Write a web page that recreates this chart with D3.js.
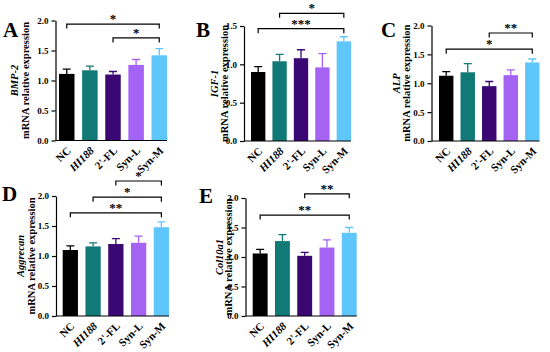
<!DOCTYPE html>
<html>
<head>
<meta charset="utf-8">
<script src="https://cdn.jsdelivr.net/npm/d3@7"></script>
<style>
  body { margin: 0; background: #fff; }
  svg text { font-family: "Liberation Serif", "Times New Roman", serif; font-weight: bold; }
</style>
</head>
<body>
<svg id="chart" width="550" height="352"></svg>
<script>
const categories = ["NC", "HI188", "2'-FL", "Syn-L", "Syn-M"];
const barColors = ["#000000", "#127a76", "#3b0873", "#a463f2", "#5fc6fb"];

const bmp2Mean = [1.11, 1.17, 1.10, 1.26, 1.42];
const bmp2Err = [0.08, 0.07, 0.05, 0.09, 0.11];
const igf1Mean = [0.90, 1.04, 1.08, 0.96, 1.30];
const igf1Err = [0.07, 0.09, 0.11, 0.18, 0.06];
const alpMean = [1.13, 1.19, 0.95, 1.14, 1.36];
const alpErr = [0.07, 0.15, 0.08, 0.09, 0.06];
const aggrecanMean = [1.10, 1.16, 1.20, 1.22, 1.48];
const aggrecanErr = [0.07, 0.06, 0.09, 0.11, 0.09];
const col10a1Mean = [1.06, 1.27, 1.02, 1.16, 1.41];
const col10a1Err = [0.07, 0.11, 0.06, 0.13, 0.09];

// significance brackets: [from index, to index, label, level]
const bmp2Sig = [[0, 4, "*", 1.94], [2, 4, "*", 1.71]];
const igf1Sig = [[1, 4, "*", 1.665], [0, 4, "***", 1.465]];
const alpSig = [[2, 4, "**", 1.87], [0, 4, "*", 1.59]];
const aggrecanSig = [[2, 4, "*", 2.25], [1, 4, "*", 1.98], [0, 4, "**", 1.72]];
const col10a1Sig = [[2, 4, "**", 2.07], [0, 4, "**", 1.71]];

const yTicks2 = [0, 0.5, 1.0, 1.5, 2.0];
const yTicks15 = [0, 0.5, 1.0, 1.5];

const panels = [
  {letter: "A", gene: "BMP-2", mean: bmp2Mean, err: bmp2Err, sig: bmp2Sig, ticks: yTicks2,
   lx: 3, ly: 37, ax: 55.5, bx: [59, 167], yr: [140.5, 20.5], t1: 14, t2: 25},
  {letter: "B", gene: "IGF-1", mean: igf1Mean, err: igf1Err, sig: igf1Sig, ticks: yTicks15,
   lx: 196, ly: 37, ax: 244, bx: [251, 351], yr: [141, 26], t1: 214, t2: 224},
  {letter: "C", gene: "ALP", mean: alpMean, err: alpErr, sig: alpSig, ticks: yTicks2,
   lx: 381, ly: 37, ax: 431.5, bx: [439, 539.5], yr: [141, 25.5], t1: 396.5, t2: 406},
  {letter: "D", gene: "Aggrecan", mean: aggrecanMean, err: aggrecanErr, sig: aggrecanSig, ticks: yTicks2,
   lx: 2, ly: 201, ax: 56, bx: [62.7, 169], yr: [316, 196], t1: 20.5, t2: 31},
  {letter: "E", gene: "Col10a1", mean: col10a1Mean, err: col10a1Err, sig: col10a1Sig, ticks: yTicks2,
   lx: 199, ly: 203, ax: 245.5, bx: [252.7, 356.7], yr: [316, 198], t1: 219, t2: 228}
];

const svg = d3.select("#chart");

panels.forEach(p => {
  const g = svg.append("g");
  const yMax = p.ticks[p.ticks.length - 1];
  const x = d3.scaleBand().domain(categories).range(p.bx).paddingInner(0.33).paddingOuter(0);
  const y = d3.scaleLinear().domain([0, yMax]).range(p.yr);
  const rows = categories.map((c, i) => ({c: c, m: p.mean[i], e: p.err[i], col: barColors[i]}));

  // panel letter
  g.append("text").attr("x", p.lx).attr("y", p.ly)
    .style("font-size", "21px").text(p.letter);

  // y title
  const midY = (p.yr[0] + p.yr[1]) / 2;
  g.append("text")
    .attr("transform", "translate(" + p.t1 + "," + midY + ") rotate(-90)")
    .attr("text-anchor", "middle").attr("dominant-baseline", "central")
    .style("font-size", "10.5px").style("font-style", "italic")
    .text(p.gene);
  g.append("text")
    .attr("transform", "translate(" + p.t2 + "," + midY + ") rotate(-90)")
    .attr("text-anchor", "middle").attr("dominant-baseline", "central")
    .attr("textLength", 117).attr("lengthAdjust", "spacingAndGlyphs")
    .style("font-size", "10.8px")
    .text("mRNA relative expression");

  // bars
  g.selectAll(".bar").data(rows).enter().append("rect")
    .attr("x", d => x(d.c))
    .attr("y", d => y(d.m))
    .attr("width", x.bandwidth())
    .attr("height", d => y(0) - y(d.m))
    .attr("fill", d => d.col);

  // error bars (upper only)
  const cap = 8;
  g.selectAll(".err").data(rows).enter().append("path")
    .attr("d", d => {
      const cx = x(d.c) + x.bandwidth() / 2;
      return "M" + cx + "," + y(d.m) + "V" + y(d.m + d.e) +
        "M" + (cx - cap / 2) + "," + y(d.m + d.e) + "H" + (cx + cap / 2);
    })
    .attr("stroke", d => d.col).attr("stroke-width", 1.3).attr("fill", "none");

  // y axis
  const yAxis = g.append("g")
    .attr("transform", "translate(" + p.ax + ",0)")
    .call(d3.axisLeft(y).tickValues(p.ticks).tickFormat(d3.format(".1f")).tickSize(4).tickSizeOuter(0).tickPadding(3));
  yAxis.selectAll("path, line").attr("stroke", "#000").attr("stroke-width", 1.2);
  yAxis.selectAll("text").style("font-size", "9px").style("font-family", "'Liberation Serif', serif").attr("fill", "#000");

  // x axis
  g.append("line")
    .attr("x1", p.ax).attr("x2", p.bx[1])
    .attr("y1", y(0)).attr("y2", y(0))
    .attr("stroke", "#000").attr("stroke-width", 1.2);
  g.selectAll(".xl").data(categories).enter().append("text")
    .attr("transform", d => "translate(" + (x(d) + x.bandwidth() / 2 + 2) + "," + (y(0) + 8) + ") rotate(-45)")
    .attr("text-anchor", "end")
    .attr("dominant-baseline", "central")
    .style("font-size", "11px")
    .style("font-style", d => d === "HI188" ? "italic" : "normal")
    .text(d => d);

  // significance brackets
  p.sig.forEach(s => {
    const x1 = x(categories[s[0]]) + x.bandwidth() / 2;
    const x2 = x(categories[s[1]]) + x.bandwidth() / 2;
    const ly = y(s[3]);
    g.append("path")
      .attr("d", "M" + x1 + "," + (ly + 4.5) + "V" + ly + "H" + x2 + "V" + (ly + 4.5))
      .attr("stroke", "#000").attr("stroke-width", 1.2).attr("fill", "none");
    g.append("text")
      .attr("x", (x1 + x2) / 2).attr("y", ly - 1)
      .attr("text-anchor", "middle")
      .style("font-size", "13px")
      .text(s[2]);
  });
});
</script>
</body>
</html>
